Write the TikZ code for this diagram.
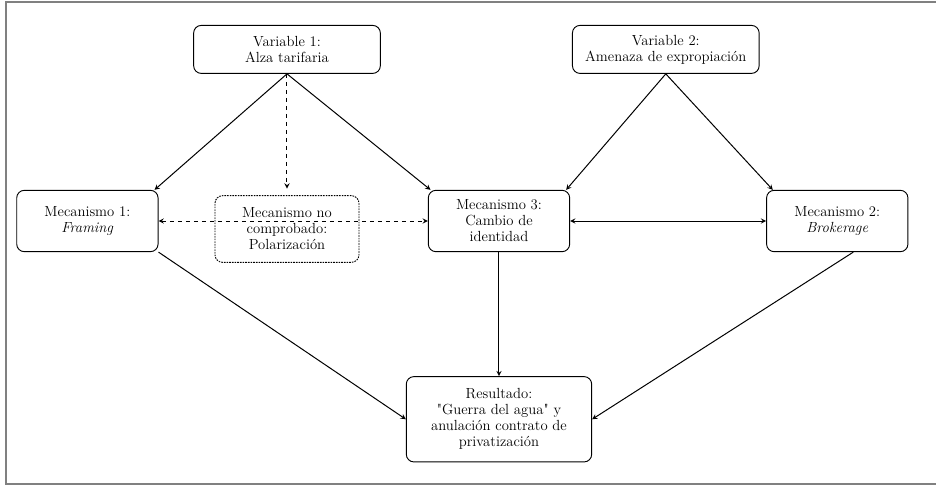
\documentclass[tikz,border=0pt]{standalone}
\usetikzlibrary{arrows, positioning}
\begin{document}
\begin{tikzpicture}[font=\fontsize{11}{12}\selectfont, >=stealth, line width=0.7pt]
\tikzset{var/.style={rectangle, align=center, draw, rounded corners=2mm, minimum width=140pt, minimum height=36pt},
		mech/.style={rectangle, align=center, draw, rounded corners=2mm, minimum width=106pt, minimum height=46pt},
		hidden/.style={rectangle, align=center, draw, dash pattern=on 1.2pt off 0.8pt, rounded corners=2mm, minimum width=108pt, minimum height=50pt},
		result/.style={rectangle, align=center, draw, rounded corners=2mm, minimum width=139pt, minimum height=64pt},
		link/.style={->, line width=0.75pt}}
\useasboundingbox (-374.25pt,-198.75pt) rectangle (327.75pt,165.75pt);
\draw[gray, line width=1.5pt] (327.75pt,163.9pt) -- (-369.4pt,163.9pt) -- (-369.4pt,-197.25pt) -- (327.75pt,-197.25pt);
\node[mech] (M3) {Mecanismo 3:\\Cambio de\\identidad};
\node[mech, left=202pt of M3] (M1) {Mecanismo 1:\\\textit{Framing}};
\node[mech, right=147pt of M3] (M2) {Mecanismo 2:\\\textit{Brokerage}};
\node[hidden, right=42pt of M1, yshift=-6pt] (P) {Mecanismo no\\comprobado:\\Polarización};
\node[var, above=91pt of P] (V1) {Variable 1:\\Alza tarifaria};
\node[var, above=87pt of M2, xshift=-128.6pt] (V2) {Variable 2:\\Amenaza de expropiación};
\node[result, below=93pt of M3] (R) {Resultado:\\\textquotedbl Guerra del agua\textquotedbl{} y\\anulación contrato de\\privatización};
\draw[link] (V1.south) -- ([xshift=-3pt]M1.north east);
\draw[link] (V1.south) -- ([xshift=2pt]M3.north west);
\draw[link, dashed] (V1.south) -- (P.north) [shorten >=5pt];
\draw[link, dashed, <->] (M1) -- (M3);
\draw[link] (V2.south) -- ([xshift=-3pt]M3.north east);
\draw[link] (V2.south) -- ([xshift=5pt]M2.north west);
\draw[link, <->] (M3) -- (M2);
\draw[link] (M3) -- (R);
\draw[link] (M1.south east) -- (R.west);
\draw[link] ([xshift=12pt]M2.south) -- (R.east);
\end{tikzpicture}
\end{document}
